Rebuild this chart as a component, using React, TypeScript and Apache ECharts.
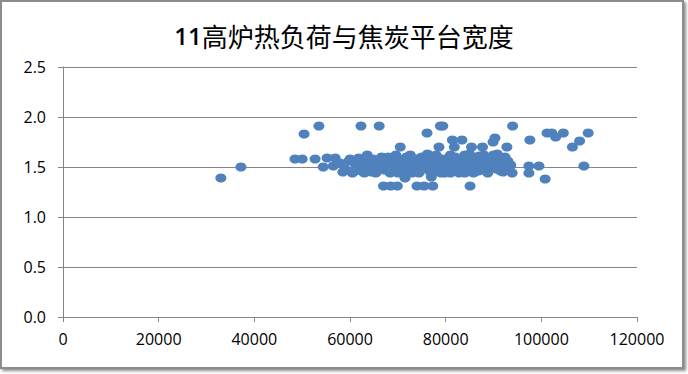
import React, { useEffect, useRef } from "react";
import * as echarts from "echarts";

const titleNumber = "11";
const titleText = "高炉热负荷与焦炭平台宽度";

const xTicks = { min: 0, max: 120000, interval: 20000 };
const yTicks = { min: 0, max: 2.5, interval: 0.5 };

// [heat load, coke platform width]
const outlierPoints: [number, number][] = [
  [33000, 1.39], [37200, 1.5], [48500, 1.58], [50000, 1.58], [50400, 1.83], [52700, 1.58],
  [53500, 1.91], [54400, 1.5], [55200, 1.59], [56900, 1.59], [56500, 1.51], [57900, 1.54],
  [58500, 1.45], [62300, 1.91], [66100, 1.91], [76100, 1.84], [78900, 1.91], [79400, 1.91],
  [94000, 1.91], [81400, 1.77], [83400, 1.77], [90300, 1.79], [89900, 1.75], [97600, 1.77],
  [101200, 1.84], [102200, 1.84], [103000, 1.8], [104600, 1.84], [106500, 1.7], [108000, 1.76],
  [109800, 1.84], [97400, 1.51], [99500, 1.51], [97400, 1.44], [100800, 1.38], [108900, 1.51],
  [93900, 1.44], [70500, 1.7], [78600, 1.7], [81800, 1.7], [85400, 1.7], [87700, 1.7], [92800, 1.7],
];

const lowPoints: [number, number][] = [
  [67000, 1.31], [68500, 1.31], [69900, 1.31], [74000, 1.31], [75500, 1.31], [77300, 1.31],
  [85100, 1.31], [71500, 1.39], [77000, 1.4],
];

const clusterPoints: [number, number][] = [
  [59000, 1.48], [59800, 1.56], [60500, 1.44], [61200, 1.52], [61800, 1.59], [62400, 1.46],
  [63000, 1.55], [63600, 1.62], [64200, 1.48], [64800, 1.58], [65400, 1.44], [66000, 1.53],
  [66600, 1.6], [67200, 1.47], [67800, 1.56], [68400, 1.44], [69000, 1.52], [69600, 1.62],
  [70200, 1.48], [70800, 1.57], [71400, 1.44], [72000, 1.53], [72600, 1.62], [73200, 1.47],
  [73800, 1.56], [74400, 1.44], [75000, 1.6], [75600, 1.51], [76200, 1.63], [76800, 1.45],
  [77400, 1.55], [78000, 1.62], [78600, 1.48], [79200, 1.58], [79800, 1.44], [80400, 1.53],
  [81000, 1.62], [81600, 1.47], [82200, 1.57], [82800, 1.44], [83400, 1.52], [84000, 1.62],
  [84600, 1.48], [85200, 1.56], [85800, 1.44], [86400, 1.53], [87000, 1.61], [87600, 1.47],
  [88200, 1.56], [88800, 1.44], [89400, 1.53], [90000, 1.62], [90600, 1.48], [91200, 1.57],
  [91800, 1.52], [92400, 1.6], [93000, 1.56], [93600, 1.52], [60000, 1.58], [65000, 1.5],
  [68000, 1.6], [71000, 1.5], [74000, 1.58], [77000, 1.5], [80000, 1.58], [83000, 1.58],
  [86000, 1.58], [89000, 1.5], [92000, 1.45], [62000, 1.5], [73000, 1.44], [79000, 1.44],
  [84000, 1.44], [88000, 1.62], [63000, 1.44], [70000, 1.44],
];

const fillPoints: [number, number][] = [
  [61000, 1.46], [64000, 1.53], [66500, 1.49], [69300, 1.57], [71800, 1.6], [72300, 1.48],
  [74800, 1.52], [75800, 1.57], [76500, 1.6], [77800, 1.46], [78300, 1.56], [80800, 1.5],
  [81300, 1.55], [82000, 1.6], [82500, 1.5], [83800, 1.55], [84300, 1.58], [85000, 1.63],
  [85500, 1.5], [86800, 1.46], [87300, 1.55], [88500, 1.5], [89700, 1.58], [90300, 1.54],
  [90800, 1.63], [91500, 1.46], [92200, 1.55], [93300, 1.48], [67500, 1.52], [70500, 1.53],
  [73500, 1.52], [76000, 1.48], [79500, 1.5], [81000, 1.44], [87000, 1.5], [64500, 1.45],
];

const GRAY = "#868686";
const FONT = "'Open Sans', 'Liberation Sans', sans-serif";

export default function App() {
  const ref = useRef<HTMLDivElement>(null);
  useEffect(() => {
    document.body.style.margin = "0";
    if (!ref.current) return;
    const chart = echarts.init(ref.current, undefined, { renderer: "svg" });
    chart.setOption({
      animation: false,
      backgroundColor: "#ffffff",
      graphic: [
        {
          type: "rect",
          z: -10,
          silent: true,
          shape: { x: 1, y: 1, width: 682, height: 367 },
          style: {
            fill: "#ffffff",
            stroke: "#8c8c8c",
            lineWidth: 2,
            shadowBlur: 3,
            shadowOffsetX: 2,
            shadowOffsetY: 2,
            shadowColor: "rgba(0,0,0,0.45)",
          },
        },
      ],
      title: {
        text: `{a|${titleNumber}}{b|${titleText}}`,
        left: "center",
        top: 17,
        textStyle: {
          rich: {
            a: { fontFamily: "'Open Sans', sans-serif", fontWeight: 600, fontSize: 24, color: "#000" },
            b: { fontFamily: "'Noto Sans CJK SC', sans-serif", fontWeight: "normal", fontSize: 26, color: "#000" },
          },
        },
      },
      grid: { left: 63, right: 51, top: 67, bottom: 57, containLabel: false },
      xAxis: {
        type: "value",
        min: xTicks.min,
        max: xTicks.max,
        interval: xTicks.interval,
        axisLine: { show: true, lineStyle: { color: GRAY, width: 1 } },
        axisTick: { show: true, inside: false, length: 5, lineStyle: { color: GRAY } },
        splitLine: { show: false },
        axisLabel: {
          color: "#000",
          fontSize: 16,
          fontFamily: FONT,
          margin: 14,
          formatter: (v: number) => String(v),
        },
      },
      yAxis: {
        type: "value",
        min: yTicks.min,
        max: yTicks.max,
        interval: yTicks.interval,
        axisLine: { show: true, lineStyle: { color: GRAY, width: 1 } },
        axisTick: { show: true, inside: false, length: 5, lineStyle: { color: GRAY } },
        splitLine: { show: true, lineStyle: { color: GRAY, width: 1 } },
        axisLabel: {
          color: "#000",
          fontSize: 16,
          fontFamily: FONT,
          margin: 17,
          formatter: (v: number) => v.toFixed(1),
        },
      },
      series: [
        {
          type: "scatter",
          data: [...outlierPoints, ...lowPoints, ...clusterPoints, ...fillPoints],
          symbol: "circle",
          symbolSize: [11, 9],
          itemStyle: { color: "#4F81BD", opacity: 1 },
        },
      ],
    });
    return () => chart.dispose();
  }, []);
  return <div ref={ref} style={{ width: 688, height: 374 }} />;
}
